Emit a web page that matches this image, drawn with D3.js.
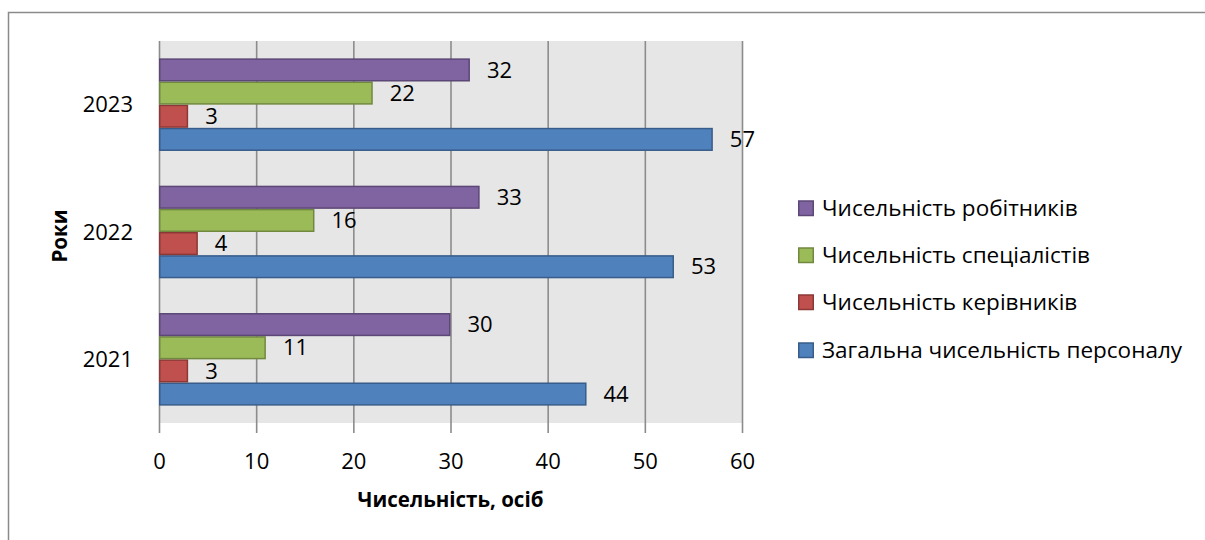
<!DOCTYPE html>
<html>
<head>
<meta charset="utf-8">
<script src="https://cdn.jsdelivr.net/npm/d3@7"></script>
<style>
  html, body { margin: 0; padding: 0; background: #ffffff; }
  svg { display: block; font-family: "Open Sans", "Noto Sans", sans-serif; }
</style>
</head>
<body>
<svg id="chart" width="1205" height="540"></svg>
<script>
// Staff headcount by year
const years = ["2021", "2022", "2023"];
const seriesNames = [
  "Загальна чисельність персоналу",
  "Чисельність керівників",
  "Чисельність спеціалістів",
  "Чисельність робітників"
];
const totalStaff  = [44, 53, 57];
const managers    = [3, 4, 3];
const specialists = [11, 16, 22];
const workers     = [30, 33, 32];
const xTicks = [0, 10, 20, 30, 40, 50, 60];

const seriesValues = [totalStaff, managers, specialists, workers];
const fills   = ["#4F81BD", "#C0504D", "#9BBB59", "#8064A2"];
const strokes = ["#385D8A", "#8C3836", "#71893F", "#5C4776"];

const svg = d3.select("#chart");

// outer chart frame (right and bottom run off the page)
svg.append("path")
  .attr("d", "M8.5,545 L8.5,12.5 L1210,12.5")
  .attr("fill", "none").attr("stroke", "#8a8a8a").attr("stroke-width", 1.5);

const plot = { left: 159, right: 742, top: 41, bottom: 423 };

const x = d3.scaleLinear().domain([0, 60]).range([plot.left, plot.right]);
// categories run bottom-to-top
const y = d3.scaleBand().domain(years).range([plot.bottom, plot.top]).paddingInner(0).paddingOuter(0);

svg.append("rect")
  .attr("x", plot.left).attr("y", plot.top)
  .attr("width", plot.right - plot.left).attr("height", plot.bottom - plot.top)
  .attr("fill", "#e6e6e6");

// vertical gridlines with tick marks below the plot
const xAxis = d3.axisBottom(x).tickValues(xTicks).tickSizeOuter(0);
const gx = svg.append("g").attr("transform", `translate(0,${plot.bottom})`).call(xAxis);
gx.select(".domain").remove();
gx.selectAll(".tick line")
  .attr("stroke", "#8c8c8c").attr("stroke-width", 1.6)
  .attr("y1", 10).attr("y2", -(plot.bottom - plot.top));
gx.selectAll(".tick text")
  .attr("y", 38).attr("dy", "0.35em")
  .attr("font-size", 22).attr("fill", "#000")
  .style("font-family", "'Open Sans', sans-serif");

// bars: 4 series per year, gap width 150% of a bar
const band = y.bandwidth();
const barH = band / (4 + 1.5);
const inner = d3.scaleBand().domain(d3.range(4).map(String))
  .range([band / 2 + 2 * barH, band / 2 - 2 * barH]);

const groups = svg.append("g").selectAll("g").data(years).join("g")
  .attr("transform", d => `translate(0,${y(d)})`);

seriesValues.forEach((vals, si) => {
  groups.append("rect")
    .attr("x", x(0) + 0.75)
    .attr("y", (d, i) => inner(String(si)) + 0.75)
    .attr("width", (d, i) => x(vals[i]) - x(0) - 1.5)
    .attr("height", inner.bandwidth() - 1.5)
    .attr("fill", fills[si]).attr("stroke", strokes[si]).attr("stroke-width", 1.5);
  groups.append("text")
    .attr("x", (d, i) => x(vals[i]) + 17)
    .attr("y", (d, i) => inner(String(si)) + inner.bandwidth() / 2)
    .attr("dy", "0.35em")
    .attr("font-size", 22).attr("fill", "#000")
    .text((d, i) => vals[i]);
});

// category labels
svg.append("g").selectAll("text").data(years).join("text")
  .attr("x", 133).attr("y", d => y(d) + band / 2).attr("dy", "0.35em")
  .attr("text-anchor", "end").attr("font-size", 22).attr("fill", "#000")
  .text(d => d);

// axis titles
svg.append("text")
  .attr("x", (plot.left + plot.right) / 2).attr("y", 500).attr("dy", "0.35em")
  .attr("text-anchor", "middle").attr("font-size", 20.5).attr("font-weight", "bold")
  .text("Чисельність, осіб");
svg.append("text")
  .attr("transform", `translate(60,${(plot.top + plot.bottom) / 2 + 4}) rotate(-90)`)
  .attr("dy", "0.35em")
  .attr("text-anchor", "middle").attr("font-size", 20.5).attr("font-weight", "bold")
  .text("Роки");

// legend: top-most series first
const legendOrder = [3, 2, 1, 0];
const legendY = [208, 255, 302, 350];
const lg = svg.append("g").selectAll("g").data(legendOrder).join("g")
  .attr("transform", (d, i) => `translate(798,${legendY[i]})`);
lg.append("rect")
  .attr("x", 0.75).attr("y", -7).attr("width", 14.5).attr("height", 14.5)
  .attr("fill", d => fills[d]).attr("stroke", d => strokes[d]).attr("stroke-width", 1.5);
lg.append("text")
  .attr("x", 24).attr("y", 0).attr("dy", "0.35em")
  .attr("font-size", 22.5).attr("fill", "#000")
  .text(d => seriesNames[d]);
</script>
</body>
</html>
